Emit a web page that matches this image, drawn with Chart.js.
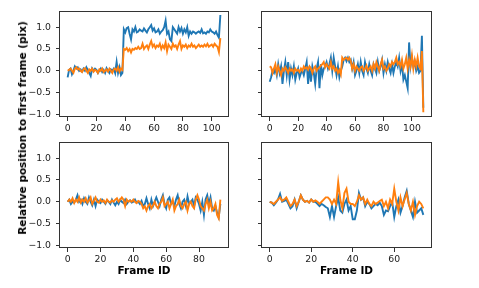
<!DOCTYPE html>
<html>
<head>
<meta charset="utf-8">
<script src="https://cdn.jsdelivr.net/npm/chart.js@4.4.0/dist/chart.umd.min.js"></script>
<style>
  body { margin: 0; background: #fff; }
  #wrap { position: relative; width: 479px; height: 288px; overflow: hidden; font-family: "DejaVu Sans", sans-serif; }
  canvas { position: absolute; }
  #ylabel {
    position: absolute; left: 22px; top: 128px;
    transform: translate(-50%, -50%) rotate(-90deg);
    white-space: nowrap; font-weight: bold; font-size: 10.5px; color: #000;
  }
</style>
</head>
<body>
<div id="wrap">
  <canvas id="p1"></canvas>
  <canvas id="p2"></canvas>
  <canvas id="p3"></canvas>
  <canvas id="p4"></canvas>
  <div id="ylabel">Relative position to first frame (pix)</div>
</div>
<script>
// tick labels
const yTicks = [-1.0, -0.5, 0.0, 0.5, 1.0];
const xTicksTop = [0, 20, 40, 60, 80, 100];
const xTicks3 = [0, 20, 40, 60, 80];
const xTicks4 = [0, 20, 40, 60];

// top-left sequence
const blue1 = [
  -0.15, 0.02, 0.05, -0.08, 0.00, 0.10, 0.05, 0.08, 0.00, 0.03,
  -0.02, 0.05, 0.00, 0.08, 0.02, -0.05, -0.12, 0.05, 0.00, 0.05,
  0.02, -0.05, 0.00, 0.05, -0.03, 0.02, -0.05, 0.06, 0.00, -0.05,
  0.03, 0.00, 0.05, -0.05, 0.20, -0.05, 0.08, -0.10, -0.05, 0.95,
  0.88, 0.98, 1.00, 0.85, 0.72, 0.95, 0.90, 1.00, 0.88, 0.90,
  0.95, 0.92, 0.90, 0.97, 0.92, 0.88, 0.95, 1.00, 1.05, 0.92,
  0.97, 0.88, 0.90, 0.95, 0.85, 0.90, 0.93, 1.00, 1.15, 0.85,
  0.90, 0.72, 0.68, 1.00, 0.95, 0.90, 0.85, 1.00, 0.90, 0.98,
  0.85, 0.95, 0.88, 1.00, 0.80, 0.90, 0.85, 0.90, 0.88, 0.85,
  0.88, 0.90, 0.87, 0.95, 0.86, 0.88, 0.85, 0.90, 0.88, 0.95,
  0.90, 0.88, 0.85, 0.90, 0.82, 0.76, 1.28
];
const orange1 = [
  0.00, 0.02, 0.05, 0.00, -0.05, 0.05, 0.08, 0.03, 0.05, 0.00,
  -0.03, 0.03, 0.06, 0.00, -0.05, 0.03, 0.00, 0.05, -0.02, 0.02,
  0.00, -0.05, 0.03, 0.00, 0.05, -0.03, 0.00, 0.03, -0.02, 0.05,
  0.00, -0.05, 0.03, 0.05, 0.00, 0.08, -0.02, 0.05, 0.02, 0.50,
  0.48, 0.52, 0.45, 0.50, 0.42, 0.50, 0.48, 0.52, 0.50, 0.55,
  0.50, 0.52, 0.62, 0.50, 0.55, 0.58, 0.50, 0.60, 0.68, 0.55,
  0.60, 0.52, 0.58, 0.55, 0.62, 0.50, 0.58, 0.52, 0.65, 0.45,
  0.60, 0.55, 0.50, 0.62, 0.55, 0.58, 0.50, 0.60, 0.68, 0.50,
  0.58, 0.55, 0.60, 0.52, 0.58, 0.55, 0.62, 0.55, 0.58, 0.52,
  0.56, 0.60, 0.55, 0.58, 0.55, 0.60, 0.56, 0.62, 0.55, 0.58,
  0.60, 0.55, 0.62, 0.58, 0.55, 0.43, 0.75
];

// top-right sequence
const blue2 = [
  -0.25, -0.15, 0.00, -0.05, 0.05, -0.10, 0.15, -0.05, 0.10, -0.30,
  0.00, 0.20, -0.10, 0.20, -0.20, 0.05, -0.10, 0.10, -0.20, -0.05,
  0.05, -0.15, -0.05, 0.00, -0.10, 0.05, 0.20, -0.30, 0.10, -0.25,
  0.10, -0.05, -0.30, 0.05, 0.20, -0.40, 0.15, -0.10, 0.05, 0.10,
  0.20, 0.05, 0.15, 0.30, 0.00, 0.30, 0.10, -0.10, 0.10, -0.15,
  0.00, 0.10, 0.25, 0.30, 0.22, 0.30, 0.20, 0.25, 0.05, 0.20,
  -0.10, 0.00, 0.15, -0.05, 0.20, 0.00, -0.10, 0.20, 0.05, -0.05,
  0.15, 0.00, -0.10, 0.15, 0.05, -0.05, 0.20, 0.00, 0.10, 0.25,
  -0.05, 0.15, 0.00, 0.20, 0.05, -0.05, 0.15, -0.05, 0.10, 0.20,
  0.10, 0.30, 0.00, 0.15, -0.20, -0.10, -0.25, -0.40, 0.65, 0.10,
  0.30, 0.10, 0.20, 0.00, 0.10, -0.05, 0.00, 0.80, -0.85
];
const orange2 = [
  0.10, 0.08, -0.05, 0.05, 0.15, -0.05, 0.10, 0.00, -0.10, 0.05,
  0.00, 0.08, 0.02, -0.05, 0.05, 0.00, 0.03, -0.05, 0.05, 0.00,
  0.02, -0.03, 0.05, 0.00, 0.10, 0.05, 0.08, 0.02, 0.10, 0.05,
  -0.05, 0.05, 0.10, 0.00, 0.05, 0.08, 0.12, 0.15, 0.20, 0.08,
  0.15, 0.10, 0.05, 0.20, 0.05, 0.10, 0.00, 0.05, -0.05, 0.02,
  -0.08, 0.30, 0.25, 0.28, 0.30, 0.25, 0.30, 0.22, 0.05, 0.15,
  0.00, 0.10, 0.05, 0.00, 0.08, 0.10, 0.00, 0.05, 0.12, 0.00,
  0.05, 0.10, 0.00, 0.15, 0.05, 0.20, 0.10, 0.00, 0.15, 0.25,
  0.05, 0.10, 0.00, 0.05, 0.15, 0.10, 0.20, 0.15, 0.20, 0.30,
  0.15, 0.20, 0.10, 0.25, 0.05, 0.15, 0.30, 0.05, 0.25, 0.10,
  0.35, 0.05, 0.25, 0.10, 0.30, 0.10, 0.05, 0.45, -0.95
];

// bottom-left sequence
const blue3 = [
  0.00, 0.05, -0.05, 0.00, -0.02, 0.05, 0.15, 0.00, 0.05, -0.05,
  0.08, 0.00, -0.05, 0.10, 0.00, -0.08, 0.05, -0.10, 0.05, 0.00,
  -0.03, 0.05, 0.00, -0.05, 0.03, 0.00, -0.05, 0.05, -0.02, -0.08,
  0.00, -0.05, 0.05, 0.00, -0.03, 0.05, -0.05, 0.00, 0.03, -0.02,
  0.00, 0.05, -0.02, 0.00, -0.05, 0.02, -0.10, -0.05, 0.08, -0.05,
  -0.15, 0.05, -0.10, 0.00, 0.10, 0.00, -0.10, 0.05, 0.15, -0.05,
  -0.15, 0.05, 0.10, -0.05, 0.00, -0.10, 0.05, 0.15, -0.05, -0.15,
  0.00, 0.05, -0.10, 0.12, -0.05, 0.00, 0.05, -0.10, 0.10, 0.05,
  -0.05, -0.20, 0.00, -0.30, 0.05, 0.15, -0.05, 0.10, -0.15, -0.20,
  -0.10, -0.25, -0.35, -0.05
];
const orange3 = [
  0.00, 0.05, 0.00, 0.08, -0.03, 0.05, 0.00, 0.10, -0.02, 0.05,
  0.00, 0.08, -0.02, 0.03, 0.10, -0.05, 0.02, 0.10, 0.00, -0.02,
  0.05, 0.00, 0.03, -0.03, 0.05, 0.00, -0.02, 0.03, 0.00, 0.05,
  0.08, 0.00, 0.05, 0.10, 0.05, -0.10, 0.05, 0.00, 0.03, 0.00,
  0.05, 0.00, -0.03, 0.02, 0.00, -0.05, -0.15, -0.10, -0.20, -0.10,
  -0.05, -0.15, -0.08, 0.00, -0.10, -0.15, -0.05, 0.00, 0.10, -0.10,
  -0.05, 0.00, -0.15, -0.05, 0.05, -0.20, -0.10, -0.05, 0.05, -0.10,
  -0.15, -0.05, 0.00, -0.20, -0.05, 0.00, -0.10, -0.15, 0.05, 0.15,
  0.05, -0.10, -0.15, -0.20, -0.05, 0.05, -0.15, 0.00, -0.20, -0.15,
  -0.05, -0.30, -0.38, 0.05
];

// bottom-right sequence
const blue4 = [
  0.00, -0.02, -0.08, -0.02, 0.05, 0.18, 0.00, 0.02, 0.05, -0.05,
  -0.15, -0.10, 0.05, -0.15, 0.00, 0.15, 0.05, 0.00, 0.02, -0.02,
  0.05, 0.00, 0.00, -0.05, -0.10, -0.05, -0.08, -0.12, -0.15, -0.35,
  -0.10, -0.35, -0.10, 0.10, -0.20, -0.25, -0.05, 0.05, -0.20, -0.10,
  -0.40, -0.40, -0.20, 0.20, 0.05, 0.10, -0.10, 0.00, -0.05, -0.15,
  -0.10, -0.05, -0.08, -0.02, -0.10, -0.30, -0.20, -0.22, -0.10, 0.00,
  -0.35, -0.10, 0.05, -0.25, -0.10, 0.10, 0.25, -0.05, -0.20, -0.35,
  0.00, -0.25, -0.20, -0.15, -0.30
];
const orange4 = [
  0.00, -0.02, -0.05, 0.00, 0.05, 0.10, 0.02, 0.05, 0.10, 0.00,
  -0.10, -0.05, 0.05, -0.10, 0.00, 0.15, 0.05, 0.00, 0.02, -0.02,
  0.05, 0.00, 0.03, 0.00, -0.05, 0.00, 0.05, 0.10, 0.10, 0.05,
  -0.05, 0.05, -0.05, 0.45, 0.05, -0.15, 0.20, 0.30, 0.00, -0.05,
  -0.05, -0.10, 0.00, 0.15, 0.05, 0.10, -0.05, 0.05, -0.05, -0.10,
  0.00, -0.05, -0.02, 0.02, 0.05, -0.10, 0.00, -0.15, 0.05, -0.05,
  0.30, 0.00, -0.20, 0.10, -0.10, 0.05, 0.20, -0.05, -0.20, 0.00,
  -0.30, -0.10, 0.00, -0.05, -0.15
];

const BLUE = '#1f77b4';
const ORANGE = '#ff7f0e';
const Y_AXIS_W = 40, PAD_TOP = 7, PAD_RIGHT = 8;

// four spines like matplotlib
const framePlugin = {
  id: 'frame',
  afterDraw(chart) {
    const { ctx, chartArea: a } = chart;
    ctx.save();
    ctx.strokeStyle = '#333';
    ctx.lineWidth = 1;
    ctx.strokeRect(Math.round(a.left) - 0.5, Math.round(a.top) + 0.5,
      Math.round(a.right - a.left) + 1, Math.round(a.bottom - a.top) - 1);
    ctx.restore();
  }
};

function fmtY(v) {
  return (v < 0 ? '\u2212' : '') + Math.abs(v).toFixed(1);
}

function makePanel(id, area, blue, orange, xMin, xMax, xTicks, showYLabels, bottomRow) {
  const xH = bottomRow ? 30 : 24;
  const padBottom = bottomRow ? 11 : 0;
  const cv = document.getElementById(id);
  const w = Y_AXIS_W + area.w + PAD_RIGHT;
  const h = PAD_TOP + area.h + xH + padBottom;
  cv.width = w; cv.height = h;
  cv.style.left = (area.x - Y_AXIS_W) + 'px';
  cv.style.top = (area.y - PAD_TOP) + 'px';

  const tickFont = { family: 'DejaVu Sans', size: 9.3 };
  new Chart(cv.getContext('2d'), {
    type: 'line',
    data: {
      datasets: [
        // orange is plotted second in the original, so it sits on top
        { data: blue.map((v, i) => ({ x: i, y: v })), borderColor: BLUE, borderWidth: 1.9, pointRadius: 0, tension: 0, order: 2 },
        { data: orange.map((v, i) => ({ x: i, y: v })), borderColor: ORANGE, borderWidth: 1.9, pointRadius: 0, tension: 0, order: 1 }
      ]
    },
    options: {
      responsive: false,
      animation: false,
      devicePixelRatio: 1,
      layout: { padding: { left: 0, top: PAD_TOP, right: PAD_RIGHT, bottom: padBottom } },
      plugins: { legend: { display: false }, tooltip: { enabled: false } },
      scales: {
        x: {
          type: 'linear',
          min: xMin, max: xMax,
          afterBuildTicks: s => { s.ticks = xTicks.map(v => ({ value: v })); },
          afterFit: s => { s.height = xH; },
          ticks: { color: '#222', font: tickFont, padding: 2, maxRotation: 0, callback: v => String(v) },
          grid: { drawOnChartArea: false, drawTicks: true, tickLength: 4, color: '#333' },
          border: { display: false },
          title: {
            display: bottomRow, text: 'Frame ID', color: '#000',
            font: { family: 'DejaVu Sans', size: 10.5, weight: 'bold' },
            padding: { top: 0, bottom: 0 }
          }
        },
        y: {
          min: -1.06, max: 1.38,
          afterBuildTicks: s => { s.ticks = yTicks.map(v => ({ value: v })); },
          afterFit: s => { s.width = Y_AXIS_W; },
          ticks: { color: '#222', font: tickFont, padding: 5, callback: v => showYLabels ? fmtY(v) : '' },
          grid: { drawOnChartArea: false, drawTicks: true, tickLength: 4, color: '#333' },
          border: { display: false }
        }
      }
    },
    plugins: [framePlugin]
  });
}

makePanel('p1', { x: 60, y: 7, w: 168, h: 110 }, blue1, orange1, -5.3, 111.3, xTicksTop, true, false);
makePanel('p2', { x: 262, y: 7, w: 169, h: 110 }, blue2, orange2, -5.4, 113.4, xTicksTop, false, false);
makePanel('p3', { x: 60, y: 138, w: 168, h: 110 }, blue3, orange3, -4.65, 97.65, xTicks3, true, true);
makePanel('p4', { x: 262, y: 138, w: 169, h: 110 }, blue4, orange4, -3.7, 77.7, xTicks4, false, true);
</script>
</body>
</html>
